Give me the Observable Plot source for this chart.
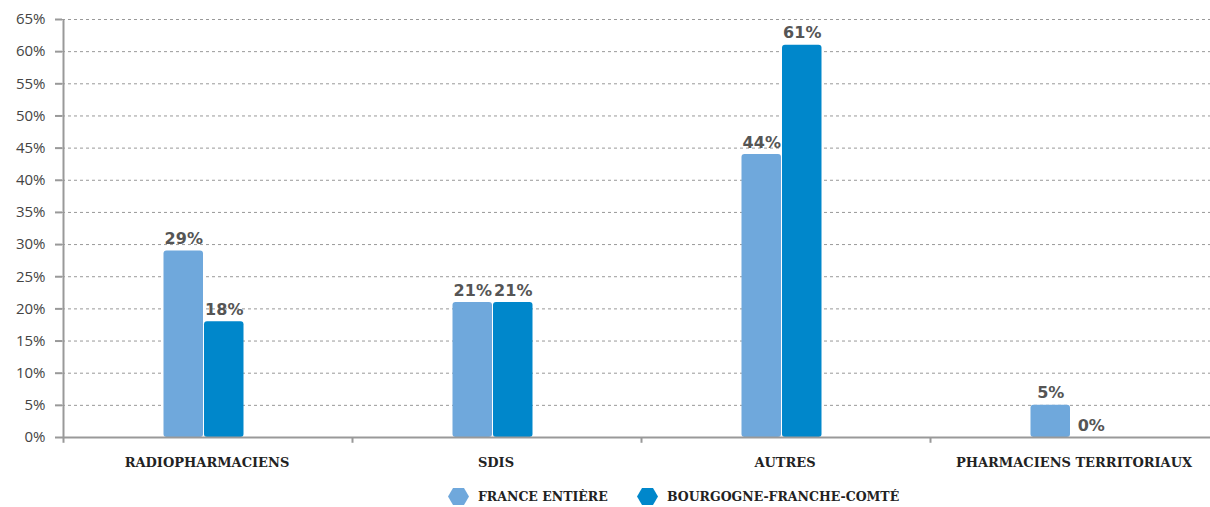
<!DOCTYPE html>
<html>
<head>
<meta charset="utf-8">
<script src="https://cdn.jsdelivr.net/npm/d3@7"></script>
<script src="https://cdn.jsdelivr.net/npm/@observablehq/plot@0.6"></script>
<style>
  html, body { margin: 0; padding: 0; background: #fff; }
  #chart svg { display: block; overflow: hidden; }
  #chart g[aria-label="y-axis tick label"] { font-size: 15px !important; font-family: "Open Sans", sans-serif !important; }
  #chart g[aria-label="y-axis tick label"] text { font-size: 15px !important; }
  #legend { position: relative; height: 21px; font-family: "DejaVu Serif", serif; font-weight: bold; font-size: 12.5px; color: #222; }
  .item { position: absolute; top: 0; display: flex; align-items: center; height: 21px; }
  .item svg { margin-right: 9px; }
</style>
</head>
<body>
<div id="chart"></div>
<div id="legend"></div>
<script>
const categories = ["RADIOPHARMACIENS", "SDIS", "AUTRES", "PHARMACIENS TERRITORIAUX"];
const series = ["FRANCE ENTIÈRE", "BOURGOGNE-FRANCHE-COMTÉ"];
const franceValues = [29, 21, 44, 5];
const bfcValues = [18, 21, 61, 0];
const yTicks = [0, 5, 10, 15, 20, 25, 30, 35, 40, 45, 50, 55, 60, 65];
const colors = ["#6FA8DC", "#0087CB"];

const france = categories.map((c, i) => ({cat: c, value: franceValues[i], series: series[0]}));
const bfc = categories.map((c, i) => ({cat: c, value: bfcValues[i], series: series[1]}));

const W = 1210, H = 486;
const xRange = [62, 1218];
const bw = (xRange[1] - xRange[0]) / categories.length;
const barW = 39.5;
const inset = (bw - barW) / 2;
const shift = -3;

const chart = Plot.plot({
  width: W,
  height: H,
  marginLeft: 62,
  marginRight: 0,
  marginTop: 19,
  marginBottom: H - 437,
  style: {fontFamily: "Lato, sans-serif", fontSize: "15px", background: "#fff", overflow: "hidden"},
  x: {domain: categories, range: xRange, padding: 0},
  y: {domain: [0, 65], range: [437, 19]},
  marks: [
    Plot.ruleY(yTicks.filter(d => d > 0), {stroke: "#999", strokeWidth: 1, strokeDasharray: "3,3"}),
    Plot.barY(france, {x: "cat", y: "value", fill: colors[0], insetLeft: inset, insetRight: inset, dx: -barW / 2 - 0.5 + shift, rx: 3}),
    Plot.barY(bfc, {x: "cat", y: "value", fill: colors[1], insetLeft: inset, insetRight: inset, dx: barW / 2 + 0.5 + shift, rx: 3}),
    Plot.text(france, {x: "cat", y: "value", text: d => d.value + "%", dx: -barW / 2 - 0.5 + shift, dy: -12, fill: "#555", fontSize: 16, fontWeight: "bold", fontFamily: "DejaVu Sans, sans-serif", letterSpacing: 0.8}),
    Plot.text(bfc, {x: "cat", y: "value", text: d => d.value + "%", dx: barW / 2 + 0.5 + shift, dy: -12, fill: "#555", fontSize: 16, fontWeight: "bold", fontFamily: "DejaVu Sans, sans-serif", letterSpacing: 0.8}),
    Plot.ruleY([0], {stroke: "#999", strokeWidth: 2}),
    Plot.ruleX([categories[0]], {x: d => d, dx: -bw / 2 + 1, y1: 0, y2: 65, stroke: "#999", strokeWidth: 2}),
    Plot.ruleX(categories, {x: d => d, dx: -bw / 2 + 1, y1: 0, y2: -0.9, stroke: "#999", strokeWidth: 2}),
    Plot.axisY({ticks: yTicks, tickFormat: d => d + "%", tickSize: 7, tickPadding: 10, stroke: "#999", strokeWidth: 2, fill: "#444", fontSize: 15, label: null}),
    Plot.axisX({tickSize: 0, tickPadding: 20, fill: "#222", fontSize: 13, fontWeight: "bold", fontFamily: "DejaVu Serif, serif", label: null})
  ]
});
document.getElementById("chart").appendChild(chart);

const legend = document.getElementById("legend");
const positions = [448, 637];
series.forEach((s, i) => {
  const item = document.createElement("div");
  item.className = "item";
  item.style.left = positions[i] + "px";
  item.innerHTML = `<svg width="21" height="17" viewBox="0 0 21 17"><polygon points="0,8.5 5,0 16,0 21,8.5 16,17 5,17" fill="${colors[i]}"/></svg><span>${s}</span>`;
  legend.appendChild(item);
});
</script>
</body>
</html>
